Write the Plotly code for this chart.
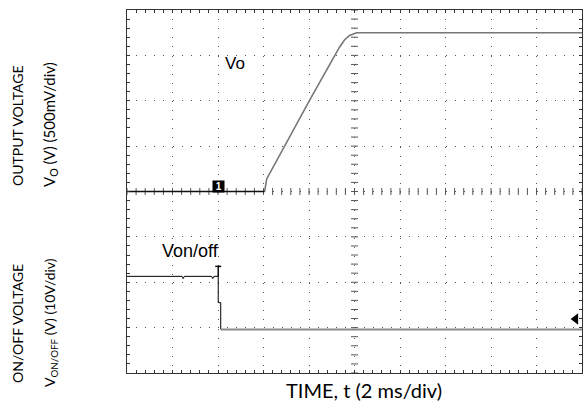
import plotly.graph_objects as go
import numpy as np

# ---- data (time in ms, 2 ms/div) ----
vo_t = [0.0, 6.05, 6.14, 8.03, 9.34, 9.56, 9.78, 10.09, 20.0]
vo_v = [0.0, 0.0, 0.138, 1.008, 1.59, 1.67, 1.72, 1.75, 1.75]          # V

von_t_high = [0.0, 2.42, 2.47, 2.52, 3.72, 3.77, 3.82, 4.01, 4.01, 4.01, 4.12, 4.12]
von_v_high = [9.4, 9.4, 8.9, 9.4, 9.4, 8.9, 9.4, 9.4, 11.5, 3.6, 3.6, -2.3]
von_t_low = [4.12, 20.0]
von_v_low = [-2.3, -2.3]

trig_t = 4.01          # ms
trig_level = 11.6      # V (ch2)
ch1_marker_t = 4.03    # ms

# ---- scope settings ----
vo_scale, vo_offset = 0.5, 0.0        # V/div, div
von_scale, von_offset = 10.0, -2.81   # V/div, div

def to_div(v, scale, off):
    return [x / scale + off for x in v]

GRID = "#555555"
FONT = "Lato, Calibri, Carlito, sans-serif"

fig = go.Figure()

# centre graticule with minor ticks
minor_x = np.arange(0, 20.001, 0.4)
minor_y = np.arange(-4, 4.001, 0.2)
fig.add_trace(go.Scatter(x=minor_x, y=[0]*len(minor_x), mode="markers",
                         marker=dict(symbol="line-ns-open", size=5, color=GRID, line=dict(width=1, color=GRID)),
                         hoverinfo="skip", showlegend=False))
fig.add_trace(go.Scatter(x=[10]*len(minor_y), y=minor_y, mode="markers",
                         marker=dict(symbol="line-ew-open", size=5, color=GRID, line=dict(width=1, color=GRID)),
                         hoverinfo="skip", showlegend=False))

# Vo
fig.add_trace(go.Scatter(x=vo_t[:2], y=to_div(vo_v[:2], vo_scale, vo_offset), mode="lines",
                         line=dict(color="#111111", width=1.6), showlegend=False))
fig.add_trace(go.Scatter(x=vo_t[1:], y=to_div(vo_v[1:], vo_scale, vo_offset), mode="lines",
                         line=dict(color="#777777", width=1.6), showlegend=False))

# Von/off
fig.add_trace(go.Scatter(x=von_t_high, y=to_div(von_v_high, von_scale, von_offset), mode="lines",
                         line=dict(color="#000000", width=1), showlegend=False))
fig.add_trace(go.Scatter(x=von_t_low, y=to_div(von_v_low, von_scale, von_offset), mode="lines",
                         line=dict(color="#8a8a8a", width=2), showlegend=False))
# trigger T marker
fig.add_trace(go.Scatter(x=[trig_t - 0.13, trig_t + 0.13], y=to_div([trig_level]*2, von_scale, von_offset),
                         mode="lines", line=dict(color="#000000", width=1.5), showlegend=False))
# ch2 ground arrow
fig.add_trace(go.Scatter(x=[19.72], y=[von_offset], mode="markers",
                         marker=dict(symbol="triangle-left", size=10, color="#000000"), showlegend=False))

axis_common = dict(showgrid=True, gridcolor=GRID, griddash="1px,8.1px", gridwidth=1,
                   showline=True, linecolor="#333333", linewidth=1, mirror="ticks",
                   ticks="inside", ticklen=3, tickcolor="#333333", showticklabels=False, zeroline=False)
fig.update_xaxes(range=[0, 20], dtick=2,
                 minor=dict(dtick=0.4, ticks="inside", ticklen=3, tickcolor="#333333", showgrid=False),
                 **axis_common)
fig.update_yaxes(range=[-4, 4], dtick=1,
                 minor=dict(dtick=0.2, ticks="inside", ticklen=3, tickcolor="#333333", showgrid=False),
                 **axis_common)

# page margin is removed by post_script, so figure sits at (0, 0)
L, R, T, B = 127, 2, 10, 43
FW, FH = 584, 416
W = FW - L - R
H = FH - T - B

def px(xp):   # page pixel -> paper x
    return (xp - L) / W

def py(yp):   # page pixel -> paper y
    return 1 - (yp - T) / H

ann = []
ann.append(dict(x=ch1_marker_t, y=vo_offset, xref="x", yref="y", text="<b>&nbsp;1&nbsp;</b>", showarrow=False,
                font=dict(family="Arial", size=10, color="white"), bgcolor="black", borderpad=0,
                yshift=5))
ann.append(dict(x=4.75, y=2.83, xref="x", yref="y", text="Vo", showarrow=False,
                font=dict(family="Liberation Sans, Arial", size=17, color="black")))
ann.append(dict(x=2.77, y=-1.31, xref="x", yref="y", text="Von/off", showarrow=False,
                font=dict(family="Liberation Sans, Arial", size=18, color="black")))
ann.append(dict(x=px(364), y=py(404), xref="paper", yref="paper", text="TIME, t (2 ms/div)", showarrow=False,
                font=dict(family=FONT, size=20, color="black")))
left_labels = [
    ("OUTPUT VOLTAGE", 17, 126, 14),
    ("ON/OFF VOLTAGE", 17, 324, 14),
    ("V<sub>O</sub> (V) (500mV/div)", 50, 125, 15),
    ("V<sub>ON/OFF</sub> (V) (10V/div)", 50, 323, 14),
]
for txt, xp, yp, fs in left_labels:
    ann.append(dict(x=px(xp), y=py(yp), xref="paper", yref="paper", text=txt, showarrow=False,
                    textangle=-90, xanchor="center", yanchor="middle",
                    font=dict(family=FONT, size=fs, color="black")))

fig.update_layout(
    width=FW, height=FH,
    margin=dict(l=L, r=R, t=T, b=B),
    paper_bgcolor="white", plot_bgcolor="white",
    showlegend=False,
    annotations=ann,
)

fig.write_html(
    "out.html",
    config={"displayModeBar": False},
    post_script="document.body.style.margin='0px';"
                "document.body.style.overflow='hidden';"
                "document.documentElement.style.overflow='hidden';",
)
